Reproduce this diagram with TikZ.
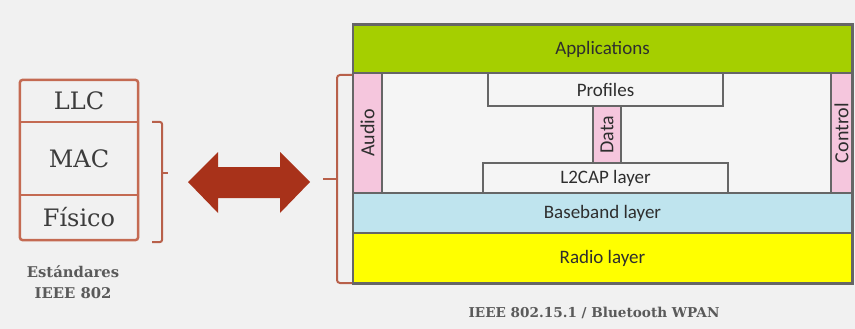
\documentclass[tikz,border=0pt]{standalone}
\usepackage{fontspec}
\setmainfont{DejaVu Serif}
\newfontfamily\carlfont{Carlito}
\begin{document}
\begin{tikzpicture}[x=1pt,y=-1pt,
  bg/.style={fill=bgcol},
  leftlayer/.style={inner sep=0pt,font=\fontsize{24}{26}\selectfont,text=txtgray},
  salmonline/.style={draw=salmon,line width=2.5pt},
  bracketline/.style={draw=brk,line width=2pt},
  layer/.style={draw=linegray,line width=1.5pt,inner sep=0pt,font=\carlfont\fontsize{19}{21}\selectfont,text=txtdark},
  vlayer/.style={layer,fill=pinkc,font=\carlfont\fontsize{20}{22}\selectfont},
  vtext/.style={rotate=90,font=\carlfont\fontsize{20}{22}\selectfont,text=txtdark},
  caption/.style={font=\bfseries\fontsize{14.8}{21}\selectfont,text=capgray,align=center}
]
\definecolor{bgcol}{HTML}{F1F1F1}
\definecolor{salmon}{HTML}{C46A52}
\definecolor{brk}{HTML}{B8604A}
\definecolor{arrowred}{HTML}{A8321A}
\definecolor{txtgray}{HTML}{3C3C3C}
\definecolor{capgray}{HTML}{5A5A5A}
\definecolor{linegray}{HTML}{666666}
\definecolor{txtdark}{HTML}{2E2E2E}
\definecolor{greenc}{HTML}{A5CF00}
\definecolor{pinkc}{HTML}{F5C6DD}
\definecolor{bluec}{HTML}{BFE4EE}
\definecolor{yellowc}{HTML}{FFFF00}
\definecolor{midc}{HTML}{F5F5F5}

% background
\path[bg] (0,0) rectangle (855,329);
\useasboundingbox (0,0) rectangle (855,329);

% ---------- left stack ----------
\node[leftlayer,minimum width=118pt,minimum height=42pt] (llc) at (79,101) {LLC};
\node[leftlayer,minimum width=118pt,minimum height=73pt] (mac) at (79,158.5) {MAC};
\node[leftlayer,minimum width=118pt,minimum height=45pt] (fis) at (79,217.5) {Físico};
\draw[salmonline,rounded corners=3pt] (llc.north west) rectangle (fis.south east);
\draw[salmonline] (llc.south west) -- (llc.south east);
\draw[salmonline] (mac.south west) -- (mac.south east);

\node[caption] (std) at (73,282) {Estándares\\IEEE 802};

% left bracket
\coordinate (lbt) at (152,122);
\coordinate (lbb) at (152,242);
\coordinate (lbm) at (168,173);
\draw[bracketline,rounded corners=2pt] (lbt) -- (162,122) -- (162,242) -- (lbb);
\draw[bracketline] (162,173) -- (lbm);

% double arrow
\fill[arrowred] (188,182) -- (218,152) -- (218,167) -- (280,167) -- (280,152) -- (310,182)
  -- (280,213) -- (280,198) -- (218,198) -- (218,213) -- cycle;

% ---------- right stack ----------
\fill[midc] (353,73) rectangle (852,193);
\node[layer,fill=greenc,minimum width=499pt,minimum height=48pt] (app) at (602.5,49) {Applications};
\node[layer,fill=bluec,minimum width=499pt,minimum height=40pt] (bb) at (602.5,213) {Baseband layer};
\node[layer,fill=yellowc,minimum width=499pt,minimum height=50pt] (radio) at (602.5,258) {Radio layer};
\node[vlayer,minimum width=29pt,minimum height=120pt] (audio) at (367.5,133) {};
\node[vtext] (audiot) at (audio.center) {Audio};
\node[vlayer,minimum width=21pt,minimum height=120pt] (ctrl) at (841.5,133) {};
\node[vtext] (ctrlt) at (ctrl.center) {Control};
\node[layer,fill=midc,minimum width=235pt,minimum height=33pt] (prof) at (605.5,89.5) {Profiles};
\node[vlayer,minimum width=28pt,minimum height=57pt] (data) at (607,134.5) {};
\node[vtext] (datat) at (data.center) {Data};
\node[layer,fill=midc,minimum width=245pt,minimum height=30pt] (l2) at (605.5,178) {L2CAP layer};
\draw[draw=linegray,line width=1.5pt] (app.north west) rectangle (radio.south east);

\node[caption,font=\bfseries\fontsize{13.6}{16}\selectfont] (bt) at (594,313) {IEEE 802.15.1 / Bluetooth WPAN};

% right bracket
\coordinate (rbt) at (352,75);
\coordinate (rbb) at (352,283);
\coordinate (rbm) at (323,179);
\draw[bracketline,rounded corners=3pt] (rbt) -- (337,75) -- (337,283) -- (rbb);
\draw[bracketline] (337,179) -- (rbm);
\end{tikzpicture}
\end{document}
